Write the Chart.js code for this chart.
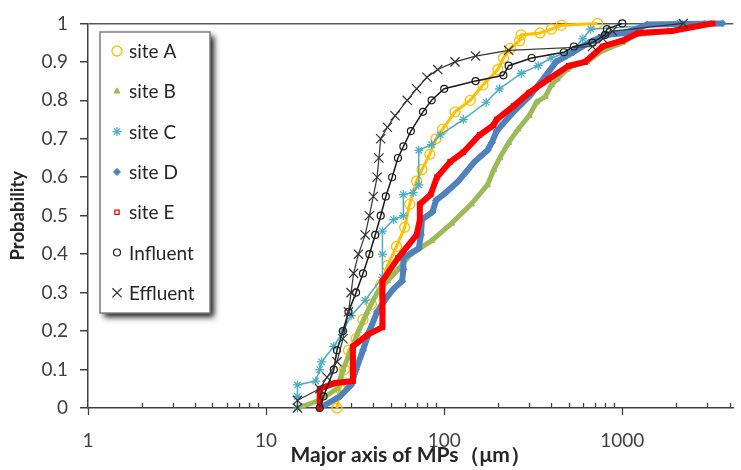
<!DOCTYPE html>
<html>
<head>
<meta charset="utf-8">
<script src="https://cdn.jsdelivr.net/npm/chart.js@4.4.1/dist/chart.umd.min.js"></script>
<style>
  html, body { margin: 0; padding: 0; background: #fff; }
  #wrap { width: 741px; height: 470px; position: relative; }
</style>
</head>
<body>
<div id="wrap"><canvas id="cdfChart" width="741" height="470"></canvas></div>
<script>
// values: size (um) and cumulative probability
var siteA_x = [25, 26, 27.5, 29, 32, 35, 39, 44, 48, 54, 60, 64, 70, 75, 83, 90, 98, 115, 140, 165, 200, 215, 235, 265, 270, 345, 400, 455, 725];
var siteA_p = [0, 0.05, 0.1, 0.15, 0.18, 0.23, 0.27, 0.32, 0.37, 0.42, 0.47, 0.53, 0.59, 0.62, 0.66, 0.7, 0.725, 0.77, 0.8, 0.84, 0.88, 0.91, 0.935, 0.955, 0.97, 0.975, 0.985, 0.995, 1];

var siteB_x = [15, 20, 25, 27, 30, 33, 37, 42, 48, 55, 65, 85, 110, 142, 175, 190, 205, 230, 260, 300, 330, 370, 400, 430, 490, 530, 630, 780, 1000, 1180, 1800, 2700, 2900];
var siteB_p = [0, 0.02, 0.05, 0.1, 0.15, 0.2, 0.25, 0.3, 0.33, 0.36, 0.4, 0.435, 0.48, 0.53, 0.58, 0.62, 0.65, 0.69, 0.725, 0.76, 0.795, 0.81, 0.84, 0.855, 0.88, 0.89, 0.9, 0.93, 0.95, 0.97, 0.98, 0.995, 1];

var siteC_x = [15, 15, 15, 19, 20, 20.5, 24, 27, 30, 36, 45, 45, 45, 52, 59, 59, 67, 72, 72, 85, 95, 128, 172, 204, 271, 337, 398, 528, 600, 665, 2110];
var siteC_p = [0, 0.03, 0.06, 0.07, 0.1, 0.12, 0.16, 0.2, 0.24, 0.28, 0.34, 0.4, 0.46, 0.49, 0.5, 0.555, 0.56, 0.58, 0.67, 0.685, 0.71, 0.75, 0.795, 0.83, 0.87, 0.89, 0.91, 0.93, 0.96, 0.985, 1];

var siteD_x = [20, 26, 30, 32, 35, 38, 42, 48, 52, 58, 59, 59, 72, 74, 75, 86, 90, 102, 120, 148, 175, 185, 197, 245, 300, 373, 425, 530, 650, 800, 1030, 1270, 1380, 3660];
var siteD_p = [0, 0.03, 0.06, 0.1, 0.15, 0.2, 0.25, 0.29, 0.31, 0.33, 0.36, 0.39, 0.415, 0.45, 0.49, 0.51, 0.54, 0.56, 0.59, 0.64, 0.67, 0.69, 0.72, 0.77, 0.81, 0.865, 0.9, 0.925, 0.95, 0.97, 0.975, 0.99, 0.997, 1];

var siteE_x = [20, 20, 20, 24.5, 30.7, 30.7, 30.7, 30.7, 37, 45, 45, 45, 45, 55, 70, 73, 73, 84, 91, 108, 128, 158, 189, 197, 245, 300, 385, 500, 620, 775, 1000, 1230, 1900, 2450, 3220];
var siteE_p = [0, 0.02, 0.05, 0.065, 0.07, 0.1, 0.13, 0.16, 0.19, 0.21, 0.25, 0.29, 0.33, 0.39, 0.45, 0.49, 0.53, 0.555, 0.6, 0.64, 0.665, 0.71, 0.735, 0.75, 0.785, 0.82, 0.855, 0.89, 0.9, 0.94, 0.955, 0.975, 0.98, 0.99, 1];

var influent_x = [20, 21, 24, 25, 27, 29, 32, 35, 38, 41, 44, 47, 51, 55, 59, 65, 76, 85, 100, 150, 215, 230, 310, 470, 535, 680, 800, 820, 1000];
var influent_p = [0, 0.03, 0.1, 0.15, 0.2, 0.25, 0.3, 0.35, 0.4, 0.45, 0.5, 0.55, 0.6, 0.65, 0.68, 0.72, 0.77, 0.8, 0.83, 0.85, 0.865, 0.89, 0.91, 0.925, 0.94, 0.95, 0.97, 0.985, 1];

var effluent_x = [15, 15, 20, 22, 25, 27, 29, 30, 31, 33, 36, 38, 40, 42, 43, 44, 48, 53, 62, 70, 80, 92, 115, 150, 230, 680, 780, 880, 2200];
var effluent_p = [0, 0.02, 0.05, 0.08, 0.12, 0.18, 0.25, 0.3, 0.35, 0.4, 0.45, 0.5, 0.55, 0.6, 0.65, 0.7, 0.73, 0.76, 0.8, 0.83, 0.86, 0.88, 0.9, 0.915, 0.93, 0.94, 0.96, 0.98, 1];

var seriesNames = ['site A', 'site B', 'site C', 'site D', 'site E', 'Influent', 'Effluent'];
var xTickLabels = [1, 10, 100, 1000];
var yTickLabels = [0, 0.1, 0.2, 0.3, 0.4, 0.5, 0.6, 0.7, 0.8, 0.9, 1];

function pairs(xs, ps){
    var out = [];
    for(var i = 0; i < xs.length; i++) out.push({x: xs[i], y: ps[i]});
    return out;
}

var allX = [siteA_x, siteB_x, siteC_x, siteD_x, siteE_x, influent_x, effluent_x];
var allP = [siteA_p, siteB_p, siteC_p, siteD_p, siteE_p, influent_p, effluent_p];

var styles = [
    {color: '#FFC000', fill: 'rgba(255,255,255,0)', legendFill: 'rgba(255,255,255,0)', shape: 'circle', r: 5, bw: 1.3, line: 3},
    {color: '#9BBB59', fill: '#9BBB59', legendFill: '#9BBB59', shape: 'triangle', r: 3.5, bw: 1, line: 5},
    {color: '#4BACC6', fill: '#4BACC6', legendFill: '#4BACC6', shape: 'star', r: 4.5, bw: 1.2, line: 1.5},
    {color: '#4F81BD', fill: '#4F81BD', legendFill: '#4F81BD', shape: 'rectRot', r: 3.5, bw: 1, line: 6},
    {color: '#FF0000', fill: '#FF0000', legendFill: '#ffffff', shape: 'rect', r: 3, bw: 1.3, line: 6},
    {color: '#1a1a1a', fill: 'rgba(255,255,255,0)', legendFill: 'rgba(255,255,255,0)', shape: 'circle', r: 3.5, bw: 1.2, line: 1.5},
    {color: '#333333', fill: '#333333', legendFill: '#333333', shape: 'crossRot', r: 6.5, bw: 1.2, line: 1.2}
];

var datasets = [];
for(var i = 0; i < seriesNames.length; i++){
    var s = styles[i];
    datasets.push({
        label: seriesNames[i],
        data: pairs(allX[i], allP[i]),
        showLine: true,
        borderColor: s.color,
        borderWidth: s.line,
        pointStyle: s.shape,
        pointRadius: s.r,
        pointBorderColor: s.color,
        pointBackgroundColor: s.fill,
        pointBorderWidth: s.bw,
        legendFill: s.legendFill,
        order: seriesNames.length - i,
        clip: false
    });
}

// custom legend box drawn on the canvas, with a drop shadow
var legendBox = {
    id: 'legendBox',
    afterDraw: function(chart){
        var ctx = chart.ctx;
        ctx.save();
        ctx.shadowColor = 'rgba(0,0,0,0.9)';
        ctx.shadowBlur = 6;
        ctx.shadowOffsetX = 4;
        ctx.shadowOffsetY = 4;
        ctx.fillStyle = '#ffffff';
        ctx.fillRect(100, 32, 110, 281);
        ctx.restore();

        ctx.save();
        ctx.strokeStyle = '#7f7f7f';
        ctx.lineWidth = 1.5;
        ctx.strokeRect(100, 32, 110, 281);
        var ds = chart.data.datasets;
        for(var i = 0; i < ds.length; i++){
            var y = 51 + i * 40.3;
            ctx.strokeStyle = ds[i].pointBorderColor;
            ctx.fillStyle = ds[i].legendFill;
            ctx.lineWidth = ds[i].pointBorderWidth;
            Chart.helpers.drawPoint(ctx, {
                pointStyle: ds[i].pointStyle,
                radius: ds[i].pointRadius,
                borderWidth: ds[i].pointBorderWidth,
                rotation: 0
            }, 117, y);
            ctx.fillStyle = '#262626';
            ctx.font = '19px Lato';
            ctx.textBaseline = 'middle';
            ctx.textAlign = 'left';
            ctx.fillText(ds[i].label, 129, y + 1);
        }
        ctx.restore();
    }
};

// log axis ticks: majors point down, minors point up into the plot
var logTicks = {
    id: 'logTicks',
    afterDraw: function(chart){
        var xs = chart.scales.x;
        var bottom = chart.chartArea.bottom;
        var ctx = chart.ctx;
        ctx.save();
        ctx.strokeStyle = '#404040';
        ctx.lineWidth = 1.3;
        xs.ticks.forEach(function(t){
            var e = Math.floor(Math.log10(t.value) + 1e-9);
            var m = t.value / Math.pow(10, e);
            if(Math.abs(m - Math.round(m)) > 1e-6) return;
            var px = Math.round(xs.getPixelForValue(t.value)) + 0.5;
            ctx.beginPath();
            if(Math.round(m) === 1){
                ctx.moveTo(px, bottom);
                ctx.lineTo(px, bottom + 7);
            } else {
                ctx.moveTo(px, bottom);
                ctx.lineTo(px, bottom - 5);
            }
            ctx.stroke();
        });
        ctx.restore();
    }
};

var cdfChart = new Chart(document.getElementById('cdfChart').getContext('2d'), {
    type: 'scatter',
    data: { datasets: datasets },
    plugins: [logTicks, legendBox],
    options: {
        responsive: false,
        animation: false,
        layout: { padding: { top: 21, right: 0, left: 0, bottom: 0 } },
        plugins: { legend: { display: false }, tooltip: { enabled: false } },
        scales: {
            x: {
                type: 'logarithmic',
                min: 1,
                max: 4200,
                afterFit: function(scale){
                    scale.height = 62;
                    scale.paddingRight = 0;
                    scale.paddingLeft = 0;
                },
                border: { color: '#404040', width: 1.5 },
                grid: { display: false },
                ticks: {
                    autoSkip: false,
                    maxRotation: 0,
                    padding: 13,
                    color: '#404040',
                    font: { family: 'Lato', size: 19 },
                    callback: function(value){
                        return xTickLabels.indexOf(value) >= 0 ? String(value) : '';
                    }
                },
                title: {
                    display: true,
                    text: 'Major axis of MPs（μm）',
                    color: '#262626',
                    font: { family: 'Lato', size: 21, weight: 'bold' },
                    padding: { top: 0, bottom: 2 }
                }
            },
            y: {
                min: 0,
                max: 1,
                afterFit: function(scale){ scale.width = 88; },
                afterBuildTicks: function(scale){
                    scale.ticks = yTickLabels.map(function(v){ return {value: v}; });
                },
                border: { color: '#404040', width: 1.5 },
                grid: {
                    drawOnChartArea: true,
                    drawTicks: true,
                    tickLength: 8,
                    tickColor: '#404040',
                    lineWidth: 1.5,
                    color: function(c){ return c.tick && c.tick.value === 1 ? '#5a5a5a' : 'rgba(0,0,0,0)'; }
                },
                ticks: {
                    padding: 12,
                    color: '#404040',
                    font: { family: 'Lato', size: 19 },
                    callback: function(value){ return String(+value.toFixed(1)); }
                },
                title: {
                    display: true,
                    text: 'Probability',
                    color: '#262626',
                    font: { family: 'Lato', size: 18.5, weight: 'bold' },
                    padding: { top: 7, bottom: 6 }
                }
            }
        }
    }
});
</script>
</body>
</html>
